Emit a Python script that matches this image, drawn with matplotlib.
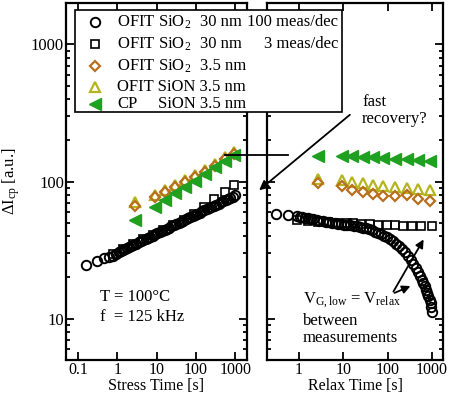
import numpy as np
import matplotlib
matplotlib.use("Agg")
import matplotlib.pyplot as plt
from matplotlib.lines import Line2D
from matplotlib.patches import Rectangle, FancyArrowPatch
from matplotlib.ticker import LogLocator, NullFormatter, FixedLocator, FixedFormatter

plt.rcParams['font.family'] = ['Liberation Serif', 'DejaVu Serif']
plt.rcParams['font.size'] = 12
plt.rcParams['mathtext.fontset'] = 'custom'
plt.rcParams['mathtext.rm'] = 'Liberation Serif'
plt.rcParams['mathtext.it'] = 'Liberation Serif:italic'

BROWN = '#B8701E'
OLIVE = '#B4B41E'
GREEN = '#20A020'

# ---- stress phase ----
stress_t_dense = [0.16, 0.31, 0.47, 0.62, 0.78, 0.93, 1.1, 1.25, 1.4, 1.6, 1.8, 2.0, 2.3, 2.6,
                  3.0, 3.5, 4.0, 4.6, 5.3, 6.1, 7.0, 8.0, 9.2, 10.6, 12, 14, 16, 18, 21, 24,
                  28, 32, 37, 42, 48, 55, 63, 72, 83, 95, 110, 125, 145, 165, 190, 220, 250,
                  290, 330, 380, 440, 500, 580, 660, 760, 870, 1000]
stress_v_dense = [24.6, 26.3, 27.6, 28.0, 28.6, 29.5, 30.7, 31.2, 31.7, 32.3, 32.9, 33.4, 34.0,
                  34.6, 35.3, 36.0, 36.7, 37.4, 38.1, 38.9, 39.6, 40.4, 41.2, 42.0, 42.8, 43.7,
                  44.5, 45.2, 46.2, 47.1, 48.1, 49.0, 50.0, 50.9, 51.9, 52.9, 53.9, 54.9, 55.9,
                  57.0, 58.3, 59.3, 60.7, 61.6, 62.9, 64.0, 65.0, 66.4, 67.6, 68.9, 70.4, 71.8,
                  73.3, 74.7, 76.2, 77.6, 79.4]

stress_t_sparse = [0.8, 1.4, 2.5, 4.5, 8, 15, 27, 49, 88, 158, 298, 545, 930]
stress_v_sparse = [29.5, 32, 35, 38, 41, 44.2, 48, 52.7, 58.2, 65, 74, 83.6, 95]

stress_t_thin = [2.8, 9, 16, 29, 52, 94, 169, 302, 545, 930]
stress_v_sio2 = [66, 77, 83.6, 91, 99, 107, 117, 130, 146, 159]
stress_v_sion = [70.8, 80, 87, 94, 102, 111, 121, 134, 150, 165]
stress_v_cp = [52.7, 65, 73, 82, 91, 101, 113, 127, 141, 156]

# ---- relax phase ----
relax_t_dense = [0.30, 0.57, 0.89, 1.05, 1.2, 1.4, 1.6, 1.85, 2.1, 2.5, 2.9, 3.4, 4.0, 4.7,
                 5.5, 6.5, 7.6, 9, 10.5, 12.3, 14.5, 17, 20, 23.5, 27.5, 32, 38, 44, 52, 61,
                 71, 83, 97, 113, 133, 155, 180, 210, 245, 285, 330, 380, 430, 480, 530, 580,
                 630, 680, 730, 780, 830, 880, 930, 970, 1000]
relax_v_dense = [57.7, 56.7, 55.7, 55.2, 54.8, 54.4, 54.0, 53.5, 53.0, 52.3, 51.8, 51.3, 50.8,
                 50.4, 50.0, 49.7, 49.3, 48.9, 48.5, 48.2, 47.9, 47.4, 47.0, 46.5, 46.0, 45.5,
                 44.8, 44.0, 43.2, 42.3, 41.4, 40.4, 39.3, 38.1, 36.8, 35.3, 33.9, 32.3, 30.5,
                 28.7, 26.7, 25.0, 23.3, 21.8, 20.5, 19.3, 18.2, 17.2, 16.3, 15.4, 14.6, 13.8,
                 13.0, 12.2, 11.2]

relax_t_sparse = [0.9, 1.6, 2.7, 4.5, 7.5, 12, 16.6, 25, 40, 61, 97, 148, 225, 356, 568, 1000]
relax_v_sparse = [52, 51.5, 51, 50.5, 50, 49.7, 49.5, 49.2, 48.8, 48.5, 48.2, 47.9, 47.6,
                  47.4, 47.2, 47.0]

relax_t_thin = [2.73, 9.2, 16, 28.3, 47.5, 80, 147, 270, 495, 910]
relax_v_sio2 = [97, 92, 86, 83.6, 81.4, 79, 77.8, 80, 75, 72]
relax_v_sion = [104.6, 101.7, 98.8, 97.2, 95, 93.5, 91, 90, 88.5, 87]
relax_v_cp = [154, 154, 153, 152, 150, 149, 147, 145, 144, 142]

W, H = 450, 394


def fx(x):
    return x / W


def fy(y):
    return 1 - y / H


fig = plt.figure(figsize=(4.5, 3.94), dpi=100)
axl = fig.add_axes([fx(66), fy(360), fx(247 - 66), (360 - 3) / H])
axr = fig.add_axes([fx(267), fy(360), fx(443 - 267), (360 - 3) / H])

circ = dict(marker='o', ms=6.8, mfc='none', mec='black', mew=1.4, ls='none')
sq = dict(marker='s', ms=6.2, mfc='none', mec='black', mew=1.2, ls='none')
dia = dict(marker='D', ms=5.6, mfc='none', mec=BROWN, mew=1.6, ls='none')
tri = dict(marker='^', ms=7.8, mfc='none', mec=OLIVE, mew=1.6, ls='none')
cp = dict(marker='<', ms=8.5, mfc=GREEN, mec=GREEN, ls='none')

axl.plot(stress_t_sparse, stress_v_sparse, **sq)
axl.plot(stress_t_dense, stress_v_dense, **circ)
axl.plot(stress_t_thin, stress_v_sion, **tri)
axl.plot(stress_t_thin, stress_v_sio2, **dia)
axl.plot(stress_t_thin, stress_v_cp, **cp)

axr.plot(relax_t_sparse, relax_v_sparse, **sq)
axr.plot(relax_t_dense, relax_v_dense, **circ)
axr.plot(relax_t_thin, relax_v_sion, **tri)
axr.plot(relax_t_thin, relax_v_sio2, **dia)
axr.plot(relax_t_thin, relax_v_cp, **cp)

axl.set_xlim(0.05, 2000)
axr.set_xlim(0.19, 1770)
for ax in (axl, axr):
    ax.set_xscale('log')
    ax.set_yscale('log')
    ax.set_ylim(5, 2000)
    for s in ax.spines.values():
        s.set_linewidth(1.6)
    ax.tick_params(which='both', direction='in', top=True, right=True, width=1.3, pad=1.5)
    ax.tick_params(which='major', length=6)
    ax.tick_params(which='minor', length=3)
    ax.tick_params(axis='x', labelsize=11.5)
    ax.xaxis.set_major_locator(FixedLocator([0.1, 1, 10, 100, 1000]))
    ax.xaxis.set_major_formatter(FixedFormatter(['0.1', '1', '10', '100', '1000']))
    ax.xaxis.set_minor_locator(LogLocator(base=10, subs=np.arange(2, 10)))
    ax.xaxis.set_minor_formatter(NullFormatter())
    ax.yaxis.set_major_locator(FixedLocator([10, 100, 1000]))
    ax.yaxis.set_minor_locator(LogLocator(base=10, subs=np.arange(2, 10)))
    ax.yaxis.set_minor_formatter(NullFormatter())

axl.yaxis.set_major_formatter(FixedFormatter(['10', '100', '1000']))
axr.yaxis.set_major_formatter(NullFormatter())

axl.set_xlabel('Stress Time [s]', labelpad=0, fontsize=11.5)
axr.set_xlabel('Relax Time [s]', labelpad=0, fontsize=11.5)
axl.set_ylabel(r'$\Delta$I$_{\mathrm{cp}}$ [a.u.]', labelpad=6)

axl.text(0.19, 0.165, 'T = 100\u00b0C', transform=axl.transAxes)
axl.text(0.19, 0.11, 'f  = 125 kHz', transform=axl.transAxes)

# connector between stress end and relax start
fig.add_artist(Line2D([fx(225), fx(288)], [fy(155), fy(155)], color='black', lw=1.3))

# fast recovery annotation
fig.text(fx(362), fy(102), 'fast', va='center', ha='left')
fig.text(fx(362), fy(119), 'recovery?', va='center', ha='left')
fig.add_artist(FancyArrowPatch((fx(352), fy(113)), (fx(257), fy(192)), transform=fig.transFigure,
                               arrowstyle='-|>', mutation_scale=14, color='black', lw=1.3))

# relax annotation
fig.text(fx(303), fy(300), r'V$_{\mathrm{G,low}}$ = V$_{\mathrm{relax}}$', va='center', ha='left')
fig.text(fx(303), fy(321), 'between', va='center', ha='left')
fig.text(fx(303), fy(338), 'measurements', va='center', ha='left')
for end in [(425, 237), (413, 285)]:
    fig.add_artist(FancyArrowPatch((fx(392), fy(294)), (fx(end[0]), fy(end[1])),
                                   transform=fig.transFigure, arrowstyle='-|>',
                                   mutation_scale=12, color='black', lw=1.3))

# legend box
fig.add_artist(Rectangle((fx(75), fy(112)), fx(342 - 75), (112 - 10) / H, transform=fig.transFigure,
                         facecolor='white', edgecolor='black', lw=1.2, zorder=5))
rows = [
    (22, circ, 'OFIT SiO$_2$', '30 nm', '100 meas/dec'),
    (44, sq, 'OFIT SiO$_2$', '30 nm', '3 meas/dec'),
    (66, dia, 'OFIT SiO$_2$', '3.5 nm', None),
    (87, tri, 'OFIT SiON 3.5 nm', None, None),
    (104, cp, 'CP', None, None),
]
for y, style, t1, t2, t3 in rows:
    fig.add_artist(Line2D([fx(95)], [fy(y)], zorder=6, **style))
    fig.text(fx(117), fy(y), t1, va='center', ha='left', zorder=6)
    if t2:
        fig.text(fx(200), fy(y), t2, va='center', ha='left', zorder=6)
    if t3:
        fig.text(fx(338), fy(y), t3, va='center', ha='right', zorder=6)
fig.text(fx(158), fy(104), 'SiON 3.5 nm', va='center', ha='left', zorder=6)

fig.savefig('out.png', dpi=100)
